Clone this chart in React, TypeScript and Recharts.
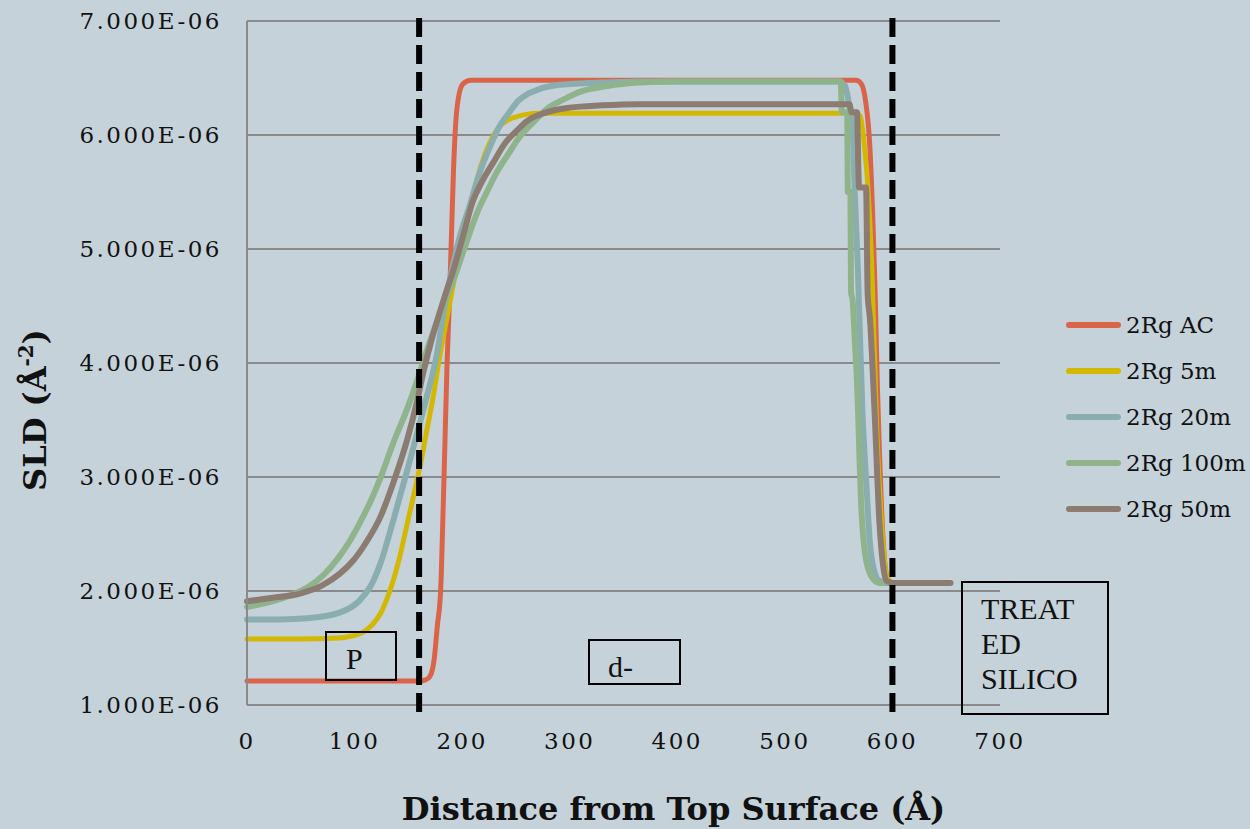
import { LineChart, Line, XAxis, YAxis, CartesianGrid, ReferenceLine, Legend, Label } from 'recharts';

// depth (Å) vs SLD, SLD in units of 1e-6 Å^-2
const acProfile: [number, number][] = [
  [0, 1.21], [100, 1.21], [160, 1.21], [166, 1.22], [170, 1.25], [174, 1.4], [177, 1.7], [180, 2.0],
  [182, 2.6], [184, 3.3], [186, 4.0], [188, 4.5], [190, 5.1], [192, 5.7], [194, 6.1], [197, 6.35],
  [201, 6.45], [208, 6.48], [300, 6.48], [400, 6.48], [500, 6.48], [566, 6.48], [571, 6.45], [575, 6.3],
  [579, 5.9], [582, 5.2], [584, 4.6], [586, 3.8], [588, 3.2], [590, 2.7], [592, 2.35], [595, 2.12],
  [598, 2.08], [600, 2.07],
];

const m5Profile: [number, number][] = [
  [0, 1.58], [50, 1.58], [80, 1.585], [95, 1.6], [108, 1.64], [116, 1.7], [124, 1.8], [132, 1.98],
  [142, 2.3], [148, 2.55], [154, 2.8], [161, 3.1], [167, 3.4], [173, 3.7], [179, 4.05], [186, 4.4],
  [192, 4.7], [200, 5.1], [210, 5.48], [220, 5.8], [232, 6.04], [247, 6.15], [272, 6.19], [300, 6.19],
  [450, 6.19], [566, 6.19], [570, 6.17], [574, 5.9], [577, 5.57], [581, 4.79], [585, 3.53],
  [590, 2.59], [595, 2.12], [600, 2.07],
];

const m20Profile: [number, number][] = [
  [0, 1.75], [30, 1.75], [56, 1.76], [86, 1.81], [105, 1.92], [117, 2.08], [124, 2.24], [136, 2.62],
  [149, 3.06], [158, 3.38], [167, 3.7], [177, 4.1], [182, 4.4], [189, 4.75], [197, 5.08], [207, 5.38],
  [216, 5.66], [226, 5.9], [235, 6.08], [244, 6.2], [252, 6.3], [261, 6.36], [271, 6.4], [290, 6.44],
  [305, 6.45], [330, 6.46], [365, 6.47], [400, 6.47], [550, 6.47], [556, 6.43], [560, 6.25],
  [563, 6.04], [565, 5.5], [568, 4.79], [572, 3.6], [576, 2.9], [579, 2.43], [583, 2.18],
  [588, 2.09], [600, 2.07],
];

const m100Profile: [number, number][] = [
  [0, 1.86], [20, 1.9], [40, 1.96], [56, 2.03], [71, 2.14], [84, 2.28], [95, 2.43], [105, 2.6],
  [115, 2.79], [124, 2.99], [136, 3.3], [149, 3.6], [158, 3.84], [164, 4.02], [173, 4.27], [182, 4.49],
  [192, 4.73], [203, 5.03], [214, 5.32], [223, 5.5], [232, 5.67], [242, 5.82], [254, 5.99], [265, 6.1],
  [279, 6.23], [294, 6.31], [310, 6.38], [335, 6.43], [365, 6.46], [400, 6.47], [552, 6.47],
  [553, 6.2], [558, 6.2], [558.5, 5.5], [561, 5.5], [561.5, 4.62], [563, 4.55], [565, 4.2],
  [567, 3.85], [571, 2.75], [575, 2.3], [581, 2.12], [588, 2.07], [600, 2.07],
];

const m50Profile: [number, number][] = [
  [0, 1.91], [24, 1.94], [50, 1.98], [70, 2.05], [86, 2.15], [99, 2.27], [111, 2.43], [124, 2.65],
  [136, 2.95], [149, 3.33], [158, 3.66], [164, 3.92], [173, 4.25], [179, 4.44], [185, 4.62],
  [192, 4.82], [201, 5.12], [210, 5.42], [219, 5.6], [229, 5.76], [240, 5.93], [251, 6.04],
  [260, 6.12], [279, 6.2], [300, 6.24], [330, 6.26], [365, 6.27], [450, 6.27], [560, 6.27],
  [562, 6.2], [567, 6.2], [569, 5.54], [575.5, 5.54], [577, 4.6], [579, 4.4], [583.6, 3.53],
  [588, 2.59], [591, 2.25], [594.5, 2.09], [600, 2.07], [654, 2.07],
];

const seriesNames = ['2Rg AC', '2Rg 5m', '2Rg 20m', '2Rg 100m', '2Rg 50m'];
const seriesColors = ['#d9644a', '#d4b800', '#8aaeb0', '#8fb48c', '#8c7b70'];
const seriesWidths = [5, 5, 6, 6, 6];
const profiles = [acProfile, m5Profile, m20Profile, m100Profile, m50Profile];

const xTicks = [0, 100, 200, 300, 400, 500, 600, 700];
const yTicks = [1, 2, 3, 4, 5, 6, 7];
const boundaries = [160, 600];

const BG = '#c6d2d9';
const GRID = '#8a8a8a';

const tickStyle = { fill: '#111', fontSize: 23, fontFamily: 'DejaVu Serif', letterSpacing: 2.5 };

const YTitle = ({ viewBox }: any) => {
  const x = viewBox.x + 46;
  const y = viewBox.y + viewBox.height / 2 + 47;
  return (
    <text x={x} y={y} transform={`rotate(-90 ${x} ${y})`} textAnchor="middle"
      style={{ fontFamily: 'DejaVu Serif', fontWeight: 700, fontSize: 32, fill: '#111' }}>
      SLD (Å<tspan fontSize={20} dy={-13}>-2</tspan><tspan dy={13}>)</tspan>
    </text>
  );
};

const XTitle = ({ viewBox }: any) => {
  const x = viewBox.x + viewBox.width / 2 + 50;
  const y = viewBox.y + 115;
  return (
    <text x={x} y={y} textAnchor="middle"
      style={{ fontFamily: 'DejaVu Serif', fontWeight: 700, fontSize: 32, fill: '#111' }}>
      Distance from Top Surface (Å)
    </text>
  );
};

// legend follows the series order of the original (not recharts' sorted payload)
const LegendList = () => (
  <div>
    {seriesNames.map((name, i) => (
      <div key={name} style={{ display: 'flex', alignItems: 'center', height: 46 }}>
        <span style={{ display: 'inline-block', width: 55, height: 6, borderRadius: 3, background: seriesColors[i] }} />
        <span style={{ marginLeft: 5, fontFamily: 'DejaVu Serif', fontSize: 23, color: '#111', lineHeight: '46px' }}>
          {name}
        </span>
      </div>
    ))}
  </div>
);

const boxText = { fontFamily: 'Liberation Serif', fontSize: 30, color: '#111', lineHeight: '35px' };

export default function App() {
  return (
    <div style={{ position: 'absolute', left: 0, top: 0, width: 1250, height: 829, background: BG, overflow: 'hidden' }}>
      <LineChart width={1250} height={829} margin={{ top: 21, right: 250, bottom: 0, left: 0 }}>
        <CartesianGrid horizontal vertical={false} stroke={GRID} strokeWidth={2} />
        <XAxis type="number" dataKey="x" domain={[0, 700]} ticks={xTicks} height={124}
          axisLine={false} tickLine={false} tickSize={0} tickMargin={28} tick={tickStyle}>
          <Label content={XTitle} />
        </XAxis>
        <YAxis type="number" dataKey="y" domain={[1, 7]} ticks={yTicks} width={247}
          axisLine={{ stroke: GRID, strokeWidth: 2 }} tickLine={false} tickSize={0} tickMargin={25}
          tick={tickStyle} tickFormatter={(v: number) => `${v.toFixed(3)}E-06`}>
          <Label content={YTitle} />
        </YAxis>
        {profiles.map((prof, i) => (
          <Line key={seriesNames[i]} name={seriesNames[i]} data={prof.map(([x, y]) => ({ x, y }))}
            dataKey="y" type="monotone" stroke={seriesColors[i]} strokeWidth={seriesWidths[i]}
            strokeLinecap="round" dot={false} activeDot={false} isAnimationActive={false} />
        ))}
        {boundaries.map((b) => (
          <ReferenceLine key={b} segment={[{ x: b, y: 7.026 }, { x: b, y: 0.939 }]} ifOverflow="visible"
            stroke="#000" strokeWidth={6} strokeDasharray="19 8" />
        ))}
        <Legend layout="vertical" align="center" verticalAlign="middle" width={184}
          wrapperStyle={{ left: 1066, top: 302 }} content={LegendList} />
      </LineChart>

      {/* text boxes drawn on top of the plot */}
      <div style={{ position: 'absolute', left: 325, top: 631, width: 68, height: 46, border: '2px solid #000' }}>
        <div style={{ ...boxText, position: 'absolute', left: 19, top: 8 }}>P</div>
      </div>
      <div style={{ position: 'absolute', left: 588, top: 639, width: 89, height: 42, border: '2px solid #000' }}>
        <div style={{ ...boxText, position: 'absolute', left: 18, top: 8 }}>d-</div>
      </div>
      <div style={{ position: 'absolute', left: 961, top: 581, width: 144, height: 130, border: '2px solid #000' }}>
        <div style={{ ...boxText, position: 'absolute', left: 18, top: 8 }}>
          TREAT<br />ED<br />SILICO
        </div>
      </div>
    </div>
  );
}
